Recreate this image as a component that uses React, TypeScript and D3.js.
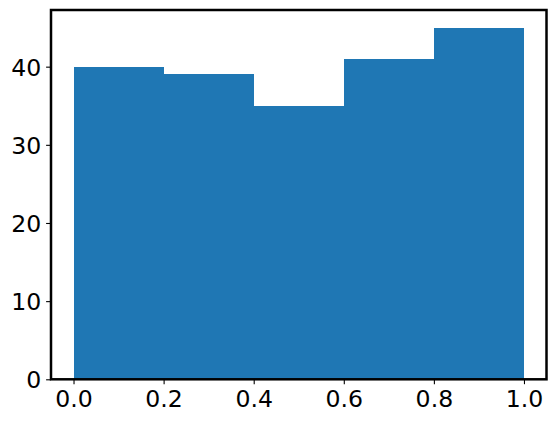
import React, { useRef, useEffect } from 'react';
import * as d3 from 'd3';

// histogram bins and counts
const binEdges = [0.0, 0.2, 0.4, 0.6, 0.8, 1.0];
const counts = [40, 39, 35, 41, 45];
const xTicks = [0.0, 0.2, 0.4, 0.6, 0.8, 1.0];
const yTicks = [0, 10, 20, 30, 40];

const W = 557;
const H = 423;

const Histogram: React.FC = () => {
    const ref = useRef<SVGSVGElement>(null);

    useEffect(() => {
        if (!ref.current) return;
        const svg = d3.select(ref.current);
        svg.selectAll("*").remove();

        const margin = { top: 10, right: 10.5, bottom: 43.7, left: 51 };
        const innerWidth = W - margin.left - margin.right;
        const innerHeight = H - margin.top - margin.bottom;

        const g = svg.append("g")
            .attr("transform", `translate(${margin.left},${margin.top})`);

        const xMin = binEdges[0];
        const xMax = binEdges[binEdges.length - 1];
        const xPad = (xMax - xMin) * 0.05;
        const xScale = d3.scaleLinear().domain([xMin - xPad, xMax + xPad]).range([0, innerWidth]);
        const yMax = d3.max(counts) || 0;
        const yScale = d3.scaleLinear().domain([0, yMax * 1.05]).range([innerHeight, 0]);

        const bins = counts.map((c, i) => ({ x0: binEdges[i], x1: binEdges[i + 1], count: c }));

        g.selectAll("rect.bar")
            .data(bins)
            .enter()
            .append("rect")
            .attr("class", "bar")
            .attr("x", d => xScale(d.x0))
            .attr("y", d => yScale(d.count))
            .attr("width", d => xScale(d.x1) - xScale(d.x0))
            .attr("height", d => innerHeight - yScale(d.count))
            .attr("fill", "#1f77b4")
            .attr("shape-rendering", "crispEdges");

        const fontFamily = "DejaVu Sans, sans-serif";
        const fontSize = "23.6px";

        g.append("g")
            .attr("transform", `translate(0,${innerHeight})`)
            .call(d3.axisBottom(xScale).tickValues(xTicks).tickFormat(d3.format(".1f")).tickSize(4.9).tickPadding(4.9))
            .call(a => a.select(".domain").remove())
            .call(a => a.selectAll(".tick line").attr("stroke", "#000").attr("stroke-width", 1.1))
            .selectAll("text")
            .attr("fill", "#000")
            .attr("dy", "0.76em")
            .style("font-family", fontFamily)
            .style("font-size", fontSize);

        g.append("g")
            .call(d3.axisLeft(yScale).tickValues(yTicks).tickFormat(d3.format("d")).tickSize(4.9).tickPadding(4.9))
            .call(a => a.select(".domain").remove())
            .call(a => a.selectAll(".tick line").attr("stroke", "#000").attr("stroke-width", 1.1))
            .selectAll("text")
            .attr("fill", "#000")
            .attr("dy", "0.36em")
            .style("font-family", fontFamily)
            .style("font-size", fontSize);

        // frame
        g.append("rect")
            .attr("x", 0)
            .attr("y", 0)
            .attr("width", innerWidth)
            .attr("height", innerHeight)
            .attr("fill", "none")
            .attr("stroke", "#000")
            .attr("stroke-width", 2.5);
    }, []);

    return <svg ref={ref} width={W} height={H} style={{ display: "block", background: "#fff" }} />;
};

export default function App() {
    return (
        <div style={{ position: "absolute", left: 0, top: 0, width: W, height: H, background: "#fff" }}>
            <Histogram />
        </div>
    );
}
